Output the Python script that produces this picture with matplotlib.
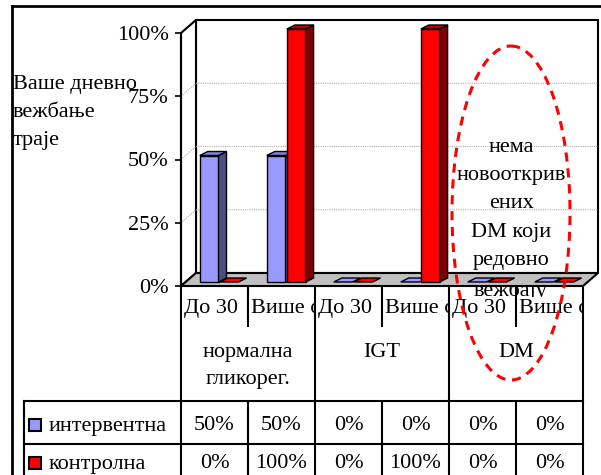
import matplotlib
matplotlib.use('Agg')
import matplotlib.pyplot as plt
from matplotlib.patches import Polygon, Rectangle, Ellipse
from matplotlib.transforms import blended_transform_factory

plt.rcParams['font.family'] = ['Liberation Serif', 'DejaVu Serif']
plt.rcParams['font.size'] = 16

# data
categories = ['До 30', 'Више од 30', 'До 30', 'Више од 30', 'До 30', 'Више од 30']
groups = ['нормална\nгликорег.', 'IGT', 'DM']
series = ['интервентна', 'контролна']
interventna = [0.5, 0.5, 0.0, 0.0, 0.0, 0.0]
kontrolna = [0.0, 1.0, 0.0, 1.0, 0.0, 0.0]
y_ticks = [0, 0.25, 0.5, 0.75, 1.0]
ylabel = 'Ваше дневно\nвежбање\nтраје'
note = 'нема\nновооткрив\nених\nDM који\nредовно\nвежбају'

# face colours: front, side, top
blue = ('#9999ff', '#4d4d88', '#8080dd')
red = ('#ff0000', '#800000', '#c00000')

W, H = 601, 475
fig = plt.figure(figsize=(W / 100, H / 100), dpi=100)

# pixel overlay for frame, table and notes
ov = fig.add_axes([0, 0, 1, 1])
ov.set_xlim(0, W)
ov.set_ylim(H, 0)
ov.set_autoscale_on(False)
ov.axis('off')

# plot area (front plane)
x0, x1, ytop, ybot = 181, 583, 33, 286
ax = fig.add_axes([x0 / W, (H - ybot) / H, (x1 - x0) / W, (ybot - ytop) / H])
ax.set_xlim(0, len(categories))
ax.set_ylim(0, 1)
ax.patch.set_visible(False)
for s in ['top', 'right', 'bottom']:
    ax.spines[s].set_visible(False)
ax.spines['left'].set_linewidth(1.5)
ax.spines['left'].set_zorder(3)
ax.set_xticks([])
ax.set_yticks(y_ticks, [f'{t:.0%}' for t in y_ticks])
ax.tick_params(axis='y', length=4, width=1.2, pad=5)

pxx = (x1 - x0) / len(categories)
pxy = ybot - ytop
def dx(p):
    return p / pxx
def dy(p):
    return p / pxy

n = len(categories)
WX, WY = dx(15), dy(13)

# walls and floor
ax.add_patch(Polygon([(WX, WY), (n + WX, WY), (n + WX, 1 + WY), (WX, 1 + WY)],
                     fc='white', ec='black', lw=1.5, clip_on=False, zorder=0))
ax.add_patch(Polygon([(0, 0), (0, 1), (WX, 1 + WY), (WX, WY)],
                     fc='white', ec='black', lw=1.5, clip_on=False, zorder=0.5))
for v in y_ticks[1:-1]:
    ax.plot([0, WX, n + WX], [v, v + WY, v + WY], color='#b0b0b0', lw=0.8,
            ls=(0, (1, 1)), clip_on=False, zorder=0.6)
ax.add_patch(Polygon([(0, 0), (n, 0), (n + WX, WY), (WX, WY)],
                     fc='#c0c0c0', ec='black', lw=1.5, clip_on=False, zorder=1))

# 3D bars
IX, IY = dx(4), dy(4)
BX, BY = dx(8), dy(4)
BW = 0.28
starts = [0.22, 0.52]

def box(xl, h, cols, z):
    xl += IX
    b, t = IY, IY + h
    kw = dict(ec='black', lw=1, clip_on=False, zorder=z)
    if h > 0:
        ax.add_patch(Polygon([(xl, b), (xl + BW, b), (xl + BW, t), (xl, t)], fc=cols[0], **kw))
        ax.add_patch(Polygon([(xl + BW, b), (xl + BW + BX, b + BY), (xl + BW + BX, t + BY),
                              (xl + BW, t)], fc=cols[1], **kw))
    ax.add_patch(Polygon([(xl, t), (xl + BW, t), (xl + BW + BX, t + BY), (xl + BX, t + BY)],
                         fc=cols[2] if h > 0 else cols[0], **kw))

z = 2
for i in range(n):
    box(i + starts[0], interventna[i], blue, z)
    box(i + starts[1], kontrolna[i], red, z + 0.1)
    z += 0.2

# data table
trans = blended_transform_factory(ax.transData, ov.transData)
lk = dict(color='black', lw=1.5, transform=trans, solid_capstyle='butt')
r_cat, r_grp, r_1 = 327, 401, 444
for i in range(n + 1):
    if i % 2 == 0:
        ov.plot([i, i], [ybot, H], **lk)
    else:
        ov.plot([i, i], [ybot, r_cat], **lk)
        ov.plot([i, i], [r_grp, H], **lk)
for yy in (r_grp, r_1):
    ov.plot([24, x1], [yy, yy], color='black', lw=1.5)
ov.plot([24, 24], [r_grp, H], color='black', lw=1.5)

# outer frame
ov.plot([12, 12], [6, H], color='black', lw=2)
ov.plot([12, W], [6, 6], color='black', lw=2)

for i, c in enumerate(categories):
    t = ov.text(i + dx(3), 309, c, transform=trans, ha='left', va='center')
    t.set_clip_path(Rectangle((i, ybot), 1, r_cat - ybot, transform=trans))
    t.set_clip_on(True)

for g, name in enumerate(groups):
    ov.text(2 * g + 1, 343, name, transform=trans, ha='center', va='top', linespacing=1.55)

for r, (name, vals, cols) in enumerate([(series[0], interventna, blue),
                                        (series[1], kontrolna, red)]):
    yc = 426 + r * 38
    ov.add_patch(Rectangle((29, yc - 7), 12, 12, fc=cols[0], ec='black', lw=1.5))
    ov.text(49, yc, name, va='center', ha='left')
    for i, v in enumerate(vals):
        ov.text(i + 0.5, yc, f'{v:.0%}', transform=trans, ha='center', va='center')

# axis title
ov.text(13, 75, ylabel, ha='left', va='top', linespacing=1.66)

# note with dashed ellipse (drawn over the back wall, under the floor)
t = ax.text(511, 138, note, transform=ov.transData, ha='center', va='top',
            linespacing=1.66, zorder=0.8)
t.set_clip_path(Rectangle((430, 0), 170, 297, transform=ov.transData))
t.set_clip_on(True)
ell = Ellipse((511, 213), 118, 334, transform=ov.transData, fill=False,
              ec='#ff0000', lw=2.2, ls=(0, (3, 2.2)), clip_on=False, zorder=10)
ax.add_artist(ell)

fig.savefig('out.png', dpi=100)
